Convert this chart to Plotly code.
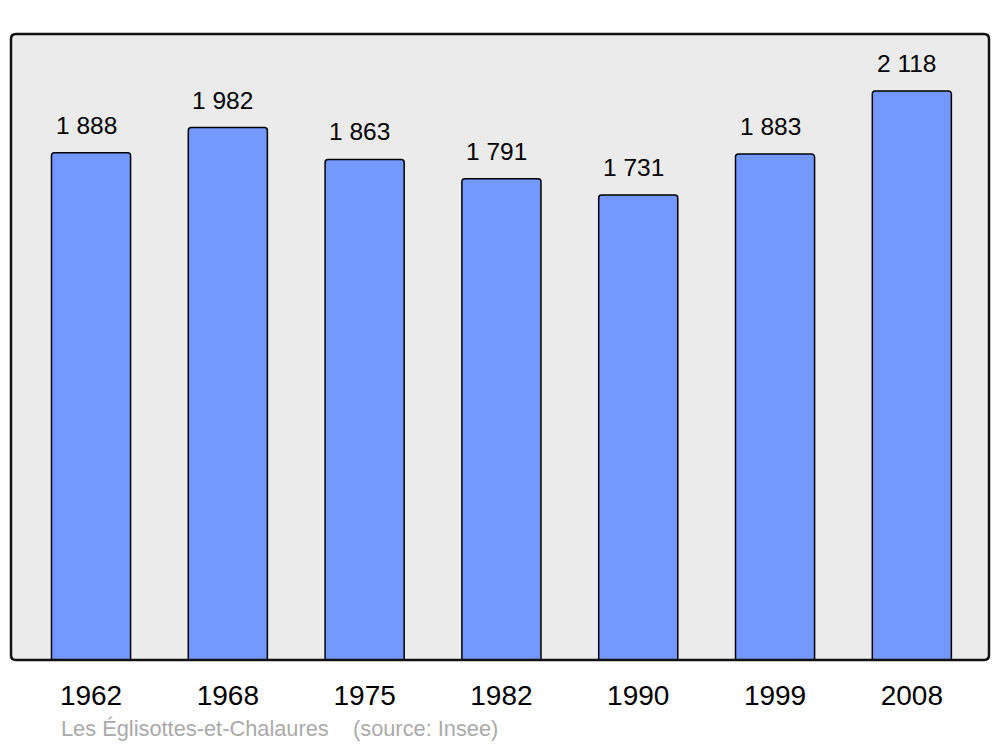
import plotly.graph_objects as go

years = ["1962", "1968", "1975", "1982", "1990", "1999", "2008"]
population = [1888, 1982, 1863, 1791, 1731, 1883, 2118]
labels = ["1 888", "1 982", "1 863", "1 791", "1 731", "1 883", "2 118"]
caption = "Les Églisottes-et-Chalaures    (source: Insee)"

font = "Liberation Sans, Arial, sans-serif"

fig = go.Figure()
fig.add_trace(go.Bar(
    x=list(range(len(years))),
    y=population,
    width=0.578,
    marker=dict(color="#7399ff", line=dict(color="#000000", width=1.5), cornerradius=3),
    hoverinfo="skip",
))

for i, (v, t) in enumerate(zip(population, labels)):
    fig.add_annotation(x=i, y=v, text=t, showarrow=False, yanchor="bottom",
                       yshift=12, xshift=-5, font=dict(family=font, size=24.5, color="#000000"))

fig.add_annotation(xref="paper", yref="paper", x=0.049, y=-0.087, xanchor="left", yanchor="top",
                   text=caption, showarrow=False,
                   font=dict(family=font, size=21.8, color="#aaaaaa"))

rx, ry = 0.005, 0.008
frame = (f"M {rx},0 L {1-rx},0 Q 1,0 1,{ry} L 1,{1-ry} Q 1,1 {1-rx},1 "
         f"L {rx},1 Q 0,1 0,{1-ry} L 0,{ry} Q 0,0 {rx},0 Z")
fig.add_shape(type="path", xref="paper", yref="paper", path=frame,
              line=dict(color="#111111", width=2.5), layer="above")

fig.update_layout(
    width=1000, height=747,
    margin=dict(l=11, r=11, t=34, b=87),
    paper_bgcolor="#ffffff",
    plot_bgcolor="#ebebeb",
    showlegend=False,
    xaxis=dict(range=[-0.585, 6.564], tickmode="array", tickvals=list(range(len(years))),
               ticktext=years, showgrid=False, zeroline=False, showline=False,
               ticks="outside", ticklen=10, tickcolor="rgba(0,0,0,0)",
               tickfont=dict(family=font, size=28, color="#000000")),
    yaxis=dict(range=[0, 2330], showgrid=False, zeroline=False, showticklabels=False,
               showline=False),
)

fig.write_html("out.html", config={"displayModeBar": False},
               post_script="document.body.style.margin='0';document.body.style.overflow='hidden';")
